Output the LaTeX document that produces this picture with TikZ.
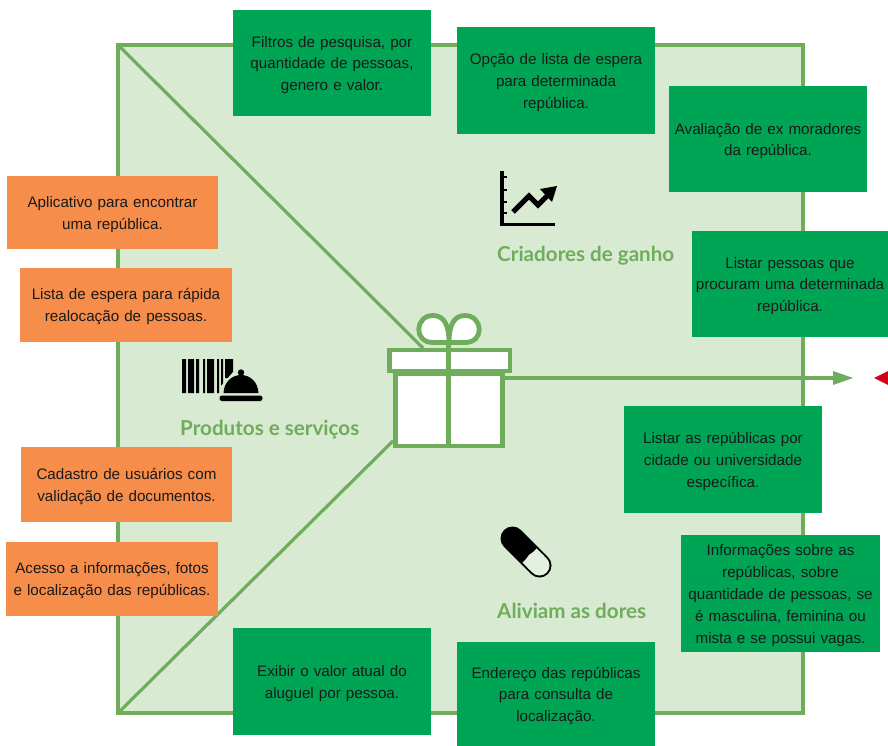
\documentclass[tikz,border=0pt]{standalone}
\usepackage{fontspec}
\setmainfont{Liberation Sans}
\newfontfamily\headfont{Lato}
\definecolor{bgG}{HTML}{D9EAD3}
\definecolor{lineG}{HTML}{6FAD5C}
\definecolor{boxG}{HTML}{00A455}
\definecolor{boxO}{HTML}{F68D4B}
\definecolor{txt}{HTML}{1A1A1A}
\definecolor{tipR}{HTML}{D0021B}
\tikzset{
  card/.style={anchor=north west,inner sep=0pt,outer sep=0pt,align=center,text=txt,
    font=\fontsize{15.2}{21.8}\selectfont},
  gcard/.style={card,fill=boxG},
  ocard/.style={card,fill=boxO},
  heading/.style={text=lineG,font=\headfont\bfseries\fontsize{20.6}{22}\selectfont,inner sep=0pt,anchor=base west},
  frameline/.style={draw=lineG,line width=3.2pt},
  giftline/.style={draw=lineG,line width=4.8pt,fill=white},
}
\newcommand{\card}[7]{% name style x y w h text
  \node[#2,minimum width=#5pt,minimum height=#6pt,text width=#5pt-2pt] (#1) at (#3pt,-#4pt) {\rule{0pt}{15pt}#7};}
\begin{document}
\begin{tikzpicture}[x=1pt,y=-1pt]
\useasboundingbox (0,0) rectangle (888,746);
\clip (0,0) rectangle (888,746);
% frame
\coordinate (tl) at (118,45);
\coordinate (tr) at (803,45);
\coordinate (br) at (803,713);
\coordinate (bl) at (118,713);
\coordinate (giftTop) at (423,348);
\coordinate (giftLow) at (393,441);
\coordinate (arrowEnd) at (853,378);
\coordinate (redTip) at (874,378);
\fill[bgG] (tl) -- (tr) -- (br) -- (bl) -- cycle;
\draw[frameline,line join=miter] (tl) -- (tr) -- (br) -- (bl) -- cycle;
\draw[frameline] (tl) -- (giftTop);
\draw[frameline] (bl) -- (giftLow);
% gift
\node[giftline,minimum width=107pt,minimum height=72pt,inner sep=0pt,outer sep=0pt] (gift) at (449,410) {};
\draw[draw=lineG,line width=4.8pt,fill=white] (449,342.5) -- (433,342.5) .. controls (413,342.5) and (415,315.5) .. (433,315.5) .. controls (444,315.5) and (449,325) .. (449,342.5) .. controls (449,325) and (454,315.5) .. (465,315.5) .. controls (483,315.5) and (485,342.5) .. (465,342.5) -- cycle;
\draw[giftline] (389.5,350) rectangle (510,371);
\draw[draw=lineG,line width=4.8pt] (448.5,344) -- (448.5,446);
\draw[frameline,shorten >=18pt] (gift.east |- arrowEnd) -- (arrowEnd);
\fill[lineG] (arrowEnd) -- (833,371) -- (833,385) -- cycle;
\fill[tipR] (redTip) -- (892,369) -- (892,387) -- cycle;
% barcode
\fill[black] (182,359) rectangle (186,393) (188,359) rectangle (194,393) (196,359) rectangle (199,393)
  (203,359) rectangle (205,393) (207,359) rectangle (214,393) (217,359) rectangle (219,393)
  (221,359) rectangle (223,393) (225,359) rectangle (233,378);
\fill[bgG] (221,394) -- (221,386) -- (233,372) -- (248,372) -- (262,394) -- cycle;
\fill[black] (223.5,393) .. controls (224,382) and (232,375) .. (241,375) .. controls (250,375) and (258,382) .. (258.5,393) -- cycle;
\fill[black] (241,372.5) circle[radius=3.2];
\fill[black,rounded corners=2.5pt] (219.5,395.5) rectangle (262.5,401);
% chart
\draw[black,line width=3.6pt] (502,171) -- (502,224.5) -- (555,224.5);
\draw[black,line width=2.4pt] (502,177) -- (507,177) (502,190) -- (507,190) (502,202) -- (507,202) (502,213) -- (507,213);
\draw[black,line width=5pt,line join=miter] (513,212) -- (529,196) -- (538,205) -- (548,195);
\fill[black] (557,186) -- (540,189) -- (552,202) -- cycle;
% pill
\draw[black,line width=24pt,line cap=round] (512.5,538.5) -- (539.5,565.5);
\draw[bgG!70!white,line width=20pt,line cap=round] (536,562) -- (539.5,565.5);
\draw[bgG!70!white,line width=20pt] (529.5,555.5) -- (537,563);
% headings
\node[heading] (hA) at (497,261.5) {Criadores de ganho};
\node[heading] (hB) at (180,435.5) {Produtos e serviços};
\node[heading] (hC) at (497,618.5) {Aliviam as dores};
% green cards
\card{g1}{gcard}{233}{10}{198}{106}{Filtros de pesquisa, por\\quantidade de pessoas,\\genero e valor.}
\card{g2}{gcard}{457}{27}{198}{107}{Opção de lista de espera\\para determinada\\república.}
\card{g3}{gcard}{669}{86}{198}{106}{Avaliação de ex moradores\\da república.}
\card{g4}{gcard}{692}{231}{196}{106}{Listar pessoas que\\procuram uma determinada\\república.}
\card{g5}{gcard}{624}{406}{198}{107}{Listar as repúblicas por\\cidade ou universidade\\específica.}
\card{g6}{gcard}{681}{535}{199}{117}{Informações sobre as\\repúblicas, sobre\\quantidade de pessoas, se\\é masculina, feminina ou\\mista e se possui vagas.}
\card{g7}{gcard}{233}{628}{198}{107}{Exibir o valor atual do\\aluguel por pessoa.}
\card{g8}{gcard}{457}{642}{198}{104}{Endereço das repúblicas\\para consulta de\\localização.}
% orange cards
\card{o1}{ocard}{7}{176}{211}{73}{Aplicativo para encontrar\\uma república.}
\card{o2}{ocard}{20}{268}{212}{74}{Lista de espera para rápida\\realocação de pessoas.}
\card{o3}{ocard}{21}{447}{211}{75}{Cadastro de usuários com\\validação de documentos.}
\card{o4}{ocard}{6}{542}{212}{74}{Acesso a informações, fotos\\e localização das repúblicas.}
\end{tikzpicture}
\end{document}
